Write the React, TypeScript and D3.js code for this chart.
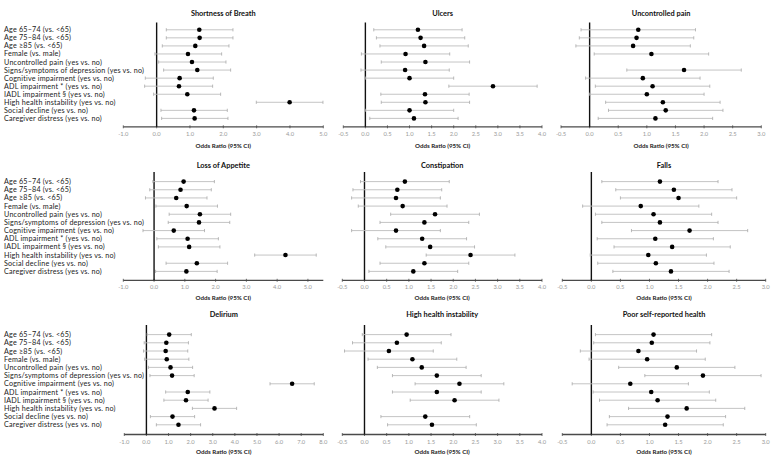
import React from "react";
import * as d3 from "d3";

const categories = [
  "Age 65–74 (vs. <65)",
  "Age 75–84 (vs. <65)",
  "Age ≥85 (vs. <65)",
  "Female (vs. male)",
  "Uncontrolled pain (yes vs. no)",
  "Signs/symptoms of depression (yes vs. no)",
  "Cognitive impairment (yes vs. no)",
  "ADL impairment * (yes vs. no)",
  "IADL impairment § (yes vs. no)",
  "High health instability (yes vs. no)",
  "Social decline (yes vs. no)",
  "Caregiver distress (yes vs. no)",
];

const panelTitles = [
  "Shortness of Breath",
  "Ulcers",
  "Uncontrolled pain",
  "Loss of Appetite",
  "Constipation",
  "Falls",
  "Delirium",
  "High health instability",
  "Poor self-reported health",
];

const axisDomains: [number, number][] = [
  [-1, 5], [-0.5, 4], [-0.5, 3],
  [-1, 5.5], [-0.5, 4], [-0.5, 3],
  [-1, 8], [-0.5, 4], [-0.5, 3],
];
const tickSteps = [1, 0.5, 0.5, 1, 0.5, 0.5, 1, 0.5, 0.5];

const sobOR = [1.28, 1.29, 1.16, 0.94, 1.06, 1.22, 0.69, 0.67, 0.92, 3.99, 1.12, 1.14];
const sobLo = [0.29, 0.29, 0.17, -0.05, 0.06, 0.21, -0.34, -0.36, -0.09, 2.99, 0.13, 0.15];
const sobHi = [2.29, 2.29, 2.17, 1.95, 2.08, 2.22, 1.70, 1.68, 1.92, 4.99, 2.12, 2.14];

const ulcOR = [1.19, 1.25, 1.33, 0.91, 1.36, 0.90, 1.0, 2.89, 1.35, 1.36, 1.0, 1.10];
const ulcLo = [0.19, 0.25, 0.33, -0.09, 0.36, -0.10, 0.0, 1.89, 0.35, 0.36, 0.0, 0.10];
const ulcHi = [2.19, 2.25, 2.33, 1.91, 2.36, 1.90, 2.0, 3.89, 2.35, 2.36, 2.0, 2.10];

const painOR = [0.85, 0.82, 0.76, 1.08, null, 1.65, 0.93, 1.10, 1.0, 1.28, 1.33, 1.15];
const painLo = [-0.15, -0.18, -0.24, 0.08, null, 0.65, -0.07, 0.10, 0.0, 0.28, 0.33, 0.15];
const painHi = [1.85, 1.82, 1.76, 2.08, null, 2.65, 1.93, 2.10, 2.0, 2.28, 2.33, 2.15];

const appOR = [0.96, 0.86, 0.72, 1.06, 1.49, 1.46, 0.64, 1.09, 1.14, 4.27, 1.39, 1.05];
const appLo = [-0.04, -0.14, -0.28, 0.06, 0.49, 0.46, -0.36, 0.09, 0.14, 3.27, 0.39, 0.05];
const appHi = [1.96, 1.86, 1.72, 2.06, 2.49, 2.46, 1.64, 2.09, 2.14, 5.27, 2.39, 2.05];

const conOR = [0.91, 0.74, 0.71, 0.86, 1.59, 1.35, 0.71, 1.30, 1.48, 2.39, 1.35, 1.10];
const conLo = [-0.09, -0.26, -0.29, -0.14, 0.59, 0.35, -0.29, 0.30, 0.48, 1.39, 0.35, 0.10];
const conHi = [1.91, 1.74, 1.71, 1.86, 2.59, 2.35, 1.71, 2.30, 2.48, 3.39, 2.35, 2.10];

const fallOR = [1.18, 1.42, 1.50, 0.85, 1.07, 1.18, 1.69, 1.10, 1.39, 0.98, 1.11, 1.37];
const fallLo = [0.18, 0.42, 0.50, -0.15, 0.07, 0.18, 0.69, 0.10, 0.39, -0.02, 0.11, 0.37];
const fallHi = [2.18, 2.42, 2.50, 1.85, 2.07, 2.18, 2.69, 2.10, 2.39, 1.98, 2.11, 2.37];

const delOR = [1.03, 0.90, 0.87, 0.92, 1.09, 1.16, 6.59, 1.87, 1.79, 3.08, 1.18, 1.45];
const delLo = [0.03, -0.10, -0.13, -0.08, 0.09, 0.16, 5.59, 0.87, 0.79, 2.08, 0.18, 0.45];
const delHi = [2.03, 1.90, 1.87, 1.92, 2.09, 2.16, 7.59, 2.87, 2.79, 4.08, 2.18, 2.45];

const hhiOR = [0.95, 0.73, 0.55, 1.08, 1.29, 1.63, 2.14, 1.63, 2.03, null, 1.37, 1.52];
const hhiLo = [-0.05, -0.27, -0.45, 0.08, 0.29, 0.63, 1.14, 0.63, 1.03, null, 0.37, 0.52];
const hhiHi = [1.95, 1.73, 1.55, 2.08, 2.29, 2.63, 3.14, 2.63, 3.03, null, 2.37, 2.52];

const psrOR = [1.07, 1.04, 0.81, 0.96, 1.47, 1.92, 0.67, 1.03, 1.14, 1.64, 1.31, 1.27];
const psrLo = [0.07, 0.04, -0.19, -0.04, 0.47, 0.92, -0.33, 0.03, 0.14, 0.64, 0.31, 0.27];
const psrHi = [2.07, 2.04, 1.81, 1.96, 2.47, 2.92, 1.67, 2.03, 2.14, 2.64, 2.31, 2.27];

const seriesOR = [sobOR, ulcOR, painOR, appOR, conOR, fallOR, delOR, hhiOR, psrOR];
const seriesLo = [sobLo, ulcLo, painLo, appLo, conLo, fallLo, delLo, hhiLo, psrLo];
const seriesHi = [sobHi, ulcHi, painHi, appHi, conHi, fallHi, delHi, hhiHi, psrHi];

const axisTitle = "Odds Ratio (95% CI)";

// layout
const colX: [number, number][][] = [
  [[123.3, 323.3], [343.3, 542], [561, 761.3]],
  [[123.3, 323.3], [342.3, 542], [562.3, 765.7]],
  [[124.3, 323.3], [342.3, 542], [562.3, 765.7]],
];
const rowY = [
  { first: 29.8, last: 118.4, axis: 126.8, zeroTop: 22.5, title: 16.2, tick: 136.4, axisT: 148.3 },
  { first: 181.6, last: 271.4, axis: 280.3, zeroTop: 172, title: 168, tick: 289, axisT: 300.2 },
  { first: 334.6, last: 424.8, axis: 434.5, zeroTop: 325, title: 317.2, tick: 444.2, axisT: 454.2 },
];

const FONT = "Lato, 'Open Sans', sans-serif";

function Panel({ idx }: { idx: number }) {
  const r = Math.floor(idx / 3);
  const c = idx % 3;
  const [x0, x1] = colX[r][c];
  const ry = rowY[r];
  const dom = axisDomains[idx];
  const x = d3.scaleLinear().domain(dom).range([x0, x1]);
  const y = d3.scalePoint<number>().domain(d3.range(categories.length)).range([ry.first, ry.last]);
  const step = tickSteps[idx];
  const ticks = d3.range(dom[0], dom[1] + 1e-9, step);
  const or = seriesOR[idx];
  const lo = seriesLo[idx];
  const hi = seriesHi[idx];
  const cx = (x0 + x1) / 2;
  return (
    <g>
      <text x={cx} y={ry.title} textAnchor="middle" fontFamily={FONT} fontWeight={700} fontSize={7.4} fill="#111">
        {panelTitles[idx]}
      </text>
      <line x1={x0} x2={x1} y1={ry.axis} y2={ry.axis} stroke="#4a4a4a" strokeWidth={1.3} />
      {ticks.map((t, i) => (
        <g key={i}>
          <line x1={x(t)} x2={x(t)} y1={ry.axis - 1.5} y2={ry.axis + 1.5} stroke="#4a4a4a" strokeWidth={0.8} />
          <text x={x(t)} y={ry.tick} textAnchor="middle" fontFamily={FONT} fontSize={5.8} fill="#9a9a9a">
            {t.toFixed(1)}
          </text>
        </g>
      ))}
      <text x={cx} y={ry.axisT} textAnchor="middle" fontFamily={FONT} fontWeight={700} fontSize={6.2} fill="#222">
        {axisTitle}
      </text>
      <line x1={x(0)} x2={x(0)} y1={ry.zeroTop} y2={ry.axis} stroke="#111" strokeWidth={1.4} />
      {or.map((v, i) => {
        if (v == null) return null;
        const yy = y(i)!;
        const l = x(lo[i] as number);
        const h = x(hi[i] as number);
        return (
          <g key={i}>
            <line x1={l} x2={h} y1={yy} y2={yy} stroke="#bdbdbd" strokeWidth={0.9} />
            <line x1={l} x2={l} y1={yy - 1.6} y2={yy + 1.6} stroke="#a8a8a8" strokeWidth={0.8} />
            <line x1={h} x2={h} y1={yy - 1.6} y2={yy + 1.6} stroke="#a8a8a8" strokeWidth={0.8} />
            <circle cx={x(v)} cy={yy} r={2.3} fill="#000" />
          </g>
        );
      })}
      {c === 0 &&
        categories.map((cat, i) => (
          <text key={i} x={4} y={y(i)! + 2.5} fontFamily={FONT} fontSize={7.2} letterSpacing={0.2} fill="#222">
            {cat}
          </text>
        ))}
    </g>
  );
}

export default function App() {
  return (
    <svg width={773} height={460} style={{ position: "absolute", left: 0, top: 0, background: "#fff" }}>
      <rect width={773} height={460} fill="#fff" />
      {panelTitles.map((_, i) => (
        <Panel key={i} idx={i} />
      ))}
    </svg>
  );
}
